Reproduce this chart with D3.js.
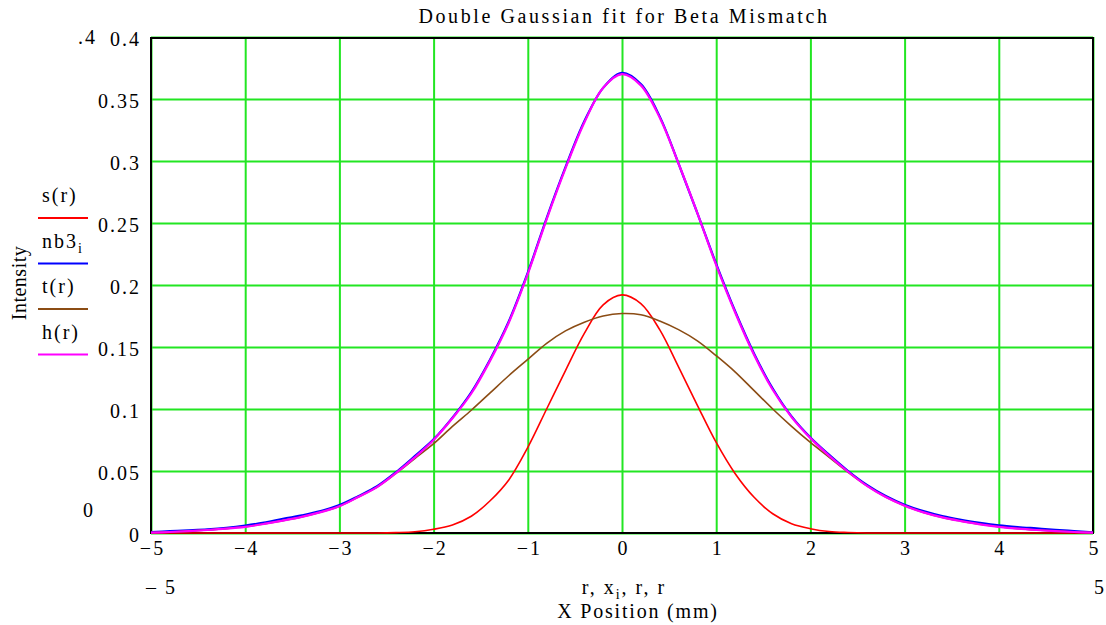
<!DOCTYPE html>
<!-- Double Gaussian fit for Beta Mismatch, Mathcad-style plot. -->
<meta charset="utf-8">
<style>
 body { margin: 0; background: #fff; }
 svg text { font-family: "Liberation Serif", "DejaVu Serif", serif; fill: #000; letter-spacing: 2px; }
 .grid line { stroke: #22e622; stroke-width: 2px; }
 .grid path { display: none; }
 .frame { fill: none; stroke: #000; stroke-width: 2px; }
 .curve { fill: none; stroke-linejoin: round; }
</style>

<svg class="chart"></svg>

<script src="https://cdn.jsdelivr.net/npm/d3@7"></script>

<script>

 // sample positions (mm)
 var xs = [-5.0, -4.8, -4.6, -4.4, -4.2, -4.0, -3.8, -3.6, -3.4, -3.2,
           -3.0, -2.8, -2.6, -2.4, -2.2, -2.0, -1.8, -1.6, -1.4, -1.2,
           -1.0, -0.8, -0.6, -0.4, -0.2, 0.0, 0.2, 0.4, 0.6, 0.8,
           1.0, 1.2, 1.4, 1.6, 1.8, 2.0, 2.2, 2.4, 2.6, 2.8,
           3.0, 3.2, 3.4, 3.6, 3.8, 4.0, 4.2, 4.4, 4.6, 4.8, 5.0];

 // s(r) narrow gaussian
 var sVals = [0, 0, 0, 0, 0, 0, 0, 0, 0, 0,
              0, 0, 0, 0.0003, 0.001, 0.003, 0.0065, 0.0135, 0.026, 0.043,
              0.069, 0.100, 0.131, 0.161, 0.184, 0.192, 0.185, 0.164, 0.134, 0.103,
              0.073, 0.048, 0.029, 0.0155, 0.0075, 0.0035, 0.0012, 0.0004, 0, 0,
              0, 0, 0, 0, 0, 0, 0, 0, 0, 0, 0];

 // nb3_i measured profile
 var nb3Vals = [0.0008, 0.0015, 0.0022, 0.0030, 0.0042, 0.0060, 0.0084, 0.0115, 0.0142, 0.0176,
                0.0225, 0.0297, 0.0377, 0.0490, 0.0620, 0.0755, 0.0930, 0.1135, 0.140, 0.171,
                0.210, 0.254, 0.295, 0.332, 0.359, 0.371, 0.362, 0.336, 0.298, 0.258,
                0.217, 0.179, 0.145, 0.1165, 0.094, 0.077, 0.063, 0.050, 0.0388, 0.0298,
                0.0228, 0.0176, 0.0136, 0.0106, 0.0082, 0.0062, 0.0048, 0.0037, 0.0026, 0.0016, 0.0006];

 // t(r) wide gaussian
 var tVals = [0.0003, 0.0008, 0.0015, 0.0024, 0.0035, 0.0050, 0.0073, 0.0100, 0.0130, 0.0168,
              0.0215, 0.029, 0.037, 0.048, 0.060, 0.072, 0.086, 0.099, 0.113, 0.127,
              0.140, 0.153, 0.163, 0.170, 0.175, 0.177, 0.176, 0.171, 0.164, 0.155,
              0.143, 0.130, 0.115, 0.100, 0.086, 0.073, 0.061, 0.049, 0.038, 0.029,
              0.022, 0.0166, 0.0126, 0.0096, 0.0070, 0.0050, 0.0035, 0.0024, 0.0015, 0.0008, 0.0003];

 // h(r) = fitted sum
 var hVals = [0.0003, 0.0008, 0.0015, 0.0024, 0.0035, 0.0050, 0.0073, 0.0100, 0.0130, 0.0168,
              0.0215, 0.029, 0.037, 0.0483, 0.061, 0.075, 0.0925, 0.1125, 0.139, 0.170,
              0.209, 0.253, 0.294, 0.331, 0.359, 0.370, 0.361, 0.335, 0.298, 0.258,
              0.216, 0.178, 0.144, 0.1155, 0.0935, 0.0765, 0.0622, 0.0494, 0.038, 0.029,
              0.022, 0.0166, 0.0126, 0.0096, 0.0070, 0.0050, 0.0035, 0.0024, 0.0015, 0.0008, 0.0003];

 var xTicks = [-5, -4, -3, -2, -1, 0, 1, 2, 3, 4, 5];
 var yTicks = [0, 0.05, 0.1, 0.15, 0.2, 0.25, 0.3, 0.35, 0.4];

 var legendNames = ["s(r)", "nb3", "t(r)", "h(r)"];
 var legendSubs = ["", "i", "", ""];
 var seriesColors = ["#ff0000", "#0000ff", "#8b4c14", "#ff00ff"];
 var seriesWidths = [1.6, 2.2, 1.6, 2.2];

 var W = 1106, H = 625;
 var pLeft = 151, pRight = 1093, pTop = 37, pBottom = 533;
 var fs = 20;

 var svg = d3.select(".chart").attr("width", W).attr("height", H);

 var x = d3.scaleLinear().domain([-5, 5]).range([pLeft, pRight]);
 var y = d3.scaleLinear().domain([0, 0.4]).range([pBottom, pTop]);

 // grid
 svg.append("g").attr("class", "grid")
    .attr("transform", "translate(0," + pBottom + ")")
    .call(d3.axisBottom(x).tickValues(xTicks).tickSize(-(pBottom - pTop)).tickFormat(""));
 svg.append("g").attr("class", "grid")
    .attr("transform", "translate(" + pLeft + ",0)")
    .call(d3.axisLeft(y).tickValues(yTicks).tickSize(-(pRight - pLeft)).tickFormat(""));

 svg.append("rect").attr("class", "frame")
    .attr("x", pLeft).attr("y", pTop + 1)
    .attr("width", pRight - pLeft).attr("height", pBottom - pTop - 1);

 // tick labels
 var minus = function(d) { return d < 0 ? "\u2212" + (-d) : String(d); };

 var xa = svg.append("g")
    .attr("transform", "translate(0," + pBottom + ")")
    .call(d3.axisBottom(x).tickValues(xTicks).tickSize(0).tickPadding(8).tickFormat(minus));
 xa.select(".domain").remove();
 xa.attr("font-size", null).attr("font-family", null);
 xa.selectAll("text").attr("font-size", fs).attr("dx", 1);

 var ya = svg.append("g")
    .attr("transform", "translate(" + pLeft + ",0)")
    .call(d3.axisLeft(y).tickValues(yTicks).tickSize(0).tickPadding(10).tickFormat(function(d) { return String(d); }));
 ya.select(".domain").remove();
 ya.attr("font-size", null).attr("font-family", null);
 ya.selectAll("text").attr("font-size", fs).attr("dy", "0.4em");

 // curves
 var series = [sVals, nb3Vals, tVals, hVals];
 var line = d3.line()
    .x(function(d, i) { return x(xs[i]); })
    .y(function(d) { return y(Math.max(0, d)); })
    .curve(d3.curveCatmullRom.alpha(0.5));

 svg.selectAll(".curve").data(series).enter()
    .append("path").attr("class", "curve")
    .attr("stroke", function(d, i) { return seriesColors[i]; })
    .attr("stroke-width", function(d, i) { return seriesWidths[i]; })
    .attr("d", line);

 // legend
 var lg = svg.append("g").attr("transform", "translate(38,0)");
 legendNames.forEach(function(name, i) {
     var ly = 218 + i * 45.5;
     var t = lg.append("text").attr("x", 4).attr("y", ly - 16).attr("font-size", fs).text(name);
     if (legendSubs[i]) {
         t.append("tspan").attr("font-size", 14).attr("dy", 5).text(legendSubs[i]);
     }
     lg.append("line").attr("x1", 0).attr("x2", 50).attr("y1", ly).attr("y2", ly)
       .attr("stroke", seriesColors[i]).attr("stroke-width", 2);
 });

 svg.append("text").attr("transform", "translate(26,283) rotate(-90)")
    .attr("text-anchor", "middle").attr("font-size", fs)
    .style("letter-spacing", "0.5px").text("Intensity");

 // title and extra range labels
 svg.append("text").attr("x", 624).attr("y", 23).attr("text-anchor", "middle")
    .attr("font-size", fs).style("letter-spacing", "2.6px")
    .text("Double Gaussian fit for Beta Mismatch");

 svg.append("text").attr("x", 97).attr("y", 44).attr("text-anchor", "end")
    .attr("font-size", fs).text(".4");
 svg.append("text").attr("x", 95).attr("y", 517).attr("text-anchor", "end")
    .attr("font-size", fs).text("0");

 svg.append("text").attr("x", 146).attr("y", 594).attr("font-size", fs).text("\u2013 5");
 svg.append("text").attr("x", 1106).attr("y", 594).attr("text-anchor", "end")
    .attr("font-size", fs).text("5");

 var xl = svg.append("text").attr("x", 624).attr("y", 594).attr("text-anchor", "middle")
    .attr("font-size", fs);
 xl.append("tspan").text("r, x");
 xl.append("tspan").attr("font-size", 14).attr("dy", 5).text("i");
 xl.append("tspan").attr("dy", -5).text(", r, r");

 svg.append("text").attr("x", 638).attr("y", 618).attr("text-anchor", "middle")
    .attr("font-size", fs).style("letter-spacing", "1.8px").text("X Position (mm)");

</script>
